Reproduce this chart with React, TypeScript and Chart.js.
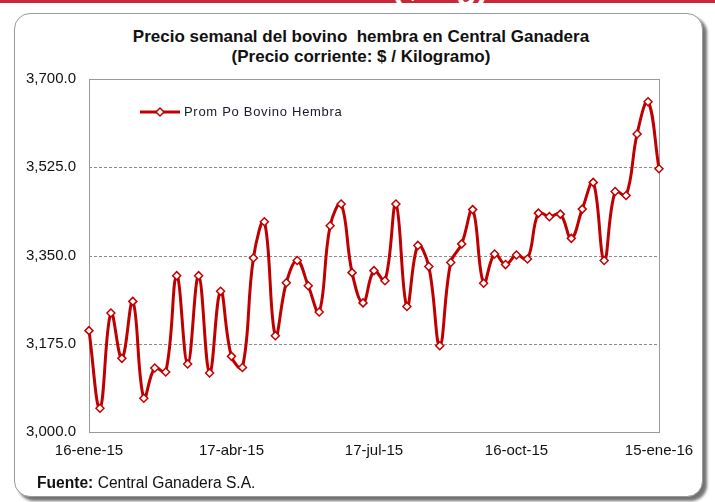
import { useEffect, useRef } from "react";
import { Chart, registerables } from "chart.js";

Chart.register(...registerables);

const categories: string[] = [
  "16-ene-15", "23-ene-15", "30-ene-15", "6-feb-15", "13-feb-15", "20-feb-15", "27-feb-15",
  "6-mar-15", "13-mar-15", "20-mar-15", "27-mar-15", "3-abr-15", "10-abr-15", "17-abr-15",
  "24-abr-15", "1-may-15", "8-may-15", "15-may-15", "22-may-15", "29-may-15", "5-jun-15",
  "12-jun-15", "19-jun-15", "26-jun-15", "3-jul-15", "10-jul-15", "17-jul-15", "24-jul-15",
  "31-jul-15", "7-ago-15", "14-ago-15", "21-ago-15", "28-ago-15", "4-sep-15", "11-sep-15",
  "18-sep-15", "25-sep-15", "2-oct-15", "9-oct-15", "16-oct-15", "23-oct-15", "30-oct-15",
  "6-nov-15", "13-nov-15", "20-nov-15", "27-nov-15", "4-dic-15", "11-dic-15", "18-dic-15",
  "25-dic-15", "1-ene-16", "8-ene-16", "15-ene-16",
];

const prices: number[] = [
  3201, 3047, 3236, 3146, 3259, 3067, 3127, 3119, 3310, 3135, 3310, 3117, 3279, 3150,
  3128, 3345, 3417, 3191, 3296, 3340, 3290, 3238, 3409, 3452, 3316, 3256, 3320, 3300,
  3452, 3249, 3370, 3328, 3171, 3336, 3373, 3441, 3295, 3353, 3332, 3351, 3343, 3434,
  3427, 3432, 3384, 3442, 3495, 3340, 3477, 3469, 3591, 3655, 3522,
];

const yTicks: number[] = [3000, 3175, 3350, 3525, 3700];
const xTickLabels: string[] = ["16-ene-15", "17-abr-15", "17-jul-15", "16-oct-15", "15-ene-16"];
const seriesLabel = "Prom Po Bovino Hembra";
const titleLines: string[] = [
  "Precio semanal del bovino  hembra en Central Ganadera",
  "(Precio corriente: $ / Kilogramo)",
];
const LINE_COLOR = "#C00000";
const FONT = "'Liberation Sans', Arial, sans-serif";

const gridPlugin = {
  id: "gridBox",
  beforeDatasetsDraw(chart: any) {
    const { ctx, chartArea } = chart;
    const y = chart.scales.y;
    ctx.save();
    ctx.strokeStyle = "#8c8c8c";
    ctx.lineWidth = 1;
    ctx.setLineDash([3, 2]);
    yTicks.slice(1, -1).forEach((v) => {
      const py = Math.round(y.getPixelForValue(v)) + 0.5;
      ctx.beginPath();
      ctx.moveTo(chartArea.left, py);
      ctx.lineTo(chartArea.right, py);
      ctx.stroke();
    });
    ctx.setLineDash([]);
    ctx.strokeStyle = "#9a9a9a";
    ctx.strokeRect(
      Math.round(chartArea.left) + 0.5,
      Math.round(chartArea.top) + 0.5,
      Math.round(chartArea.right - chartArea.left),
      Math.round(chartArea.bottom - chartArea.top)
    );
    ctx.restore();
  },
};

const legendPlugin = {
  id: "insideLegend",
  afterDraw(chart: any) {
    const { ctx, chartArea } = chart;
    const ds = chart.data.datasets[0];
    const x1 = chartArea.left + 51;
    const x2 = chartArea.left + 91;
    const ly = chartArea.top + 33;
    ctx.save();
    ctx.strokeStyle = LINE_COLOR;
    ctx.lineWidth = 3;
    ctx.beginPath();
    ctx.moveTo(x1, ly);
    ctx.lineTo(x2, ly);
    ctx.stroke();
    const cx = (x1 + x2) / 2;
    const r = 4;
    ctx.beginPath();
    ctx.moveTo(cx, ly - r);
    ctx.lineTo(cx + r, ly);
    ctx.lineTo(cx, ly + r);
    ctx.lineTo(cx - r, ly);
    ctx.closePath();
    ctx.fillStyle = "#ffffff";
    ctx.fill();
    ctx.lineWidth = 1.5;
    ctx.stroke();
    ctx.fillStyle = "#1a1a2a";
    ctx.font = "13px " + FONT;
    (ctx as any).letterSpacing = "0.7px";
    ctx.textBaseline = "middle";
    ctx.textAlign = "left";
    ctx.fillText(ds.label, x2 + 4, ly);
    ctx.restore();
  },
};

function ChartView() {
  const ref = useRef<HTMLCanvasElement | null>(null);
  useEffect(() => {
    if (!ref.current) return;
    const chart = new Chart(ref.current, {
      type: "line",
      data: {
        labels: categories,
        datasets: [
          {
            label: seriesLabel,
            data: prices,
            borderColor: LINE_COLOR,
            borderWidth: 3,
            tension: 0.4,
            pointStyle: "rectRot",
            pointRadius: 4,
            pointBackgroundColor: "#ffffff",
            pointBorderColor: LINE_COLOR,
            pointBorderWidth: 1.5,
            clip: false,
          } as any,
        ],
      },
      options: {
        animation: false,
        responsive: false,
        devicePixelRatio: 1,
        layout: { padding: { left: 9, top: 79, right: 56, bottom: 40 } },
        plugins: {
          legend: { display: false },
          tooltip: { enabled: false },
          title: { display: false },
        },
        scales: {
          x: {
            type: "category",
            offset: false,
            grid: { display: false, drawTicks: false },
            border: { display: false },
            ticks: {
              autoSkip: false,
              maxRotation: 0,
              minRotation: 0,
              padding: 10,
              color: "#111111",
              font: { family: FONT, size: 15 },
              callback: (_v: any, i: number) =>
                xTickLabels.includes(categories[i]) ? categories[i] : "",
            },
            afterFit: (s: any) => {
              s.height = 30;
            },
          },
          y: {
            min: yTicks[0],
            max: yTicks[yTicks.length - 1],
            grid: { display: false, drawTicks: false },
            border: { display: false },
            afterBuildTicks: (s: any) => {
              s.ticks = yTicks.map((v) => ({ value: v }));
            },
            ticks: {
              padding: 13,
              color: "#111111",
              font: { family: FONT, size: 15 },
              callback: (v: any) =>
                Number(v).toLocaleString("en-US", {
                  minimumFractionDigits: 1,
                  maximumFractionDigits: 1,
                }),
            },
            afterFit: (s: any) => {
              s.width = 80;
            },
          },
        },
      },
      plugins: [gridPlugin, legendPlugin],
    });
    return () => chart.destroy();
  }, []);
  return (
    <canvas
      ref={ref}
      width={715}
      height={502}
      style={{ position: "absolute", left: 0, top: 0, width: 715, height: 502 }}
    />
  );
}

export default function App() {
  useEffect(() => {
    document.body.style.margin = "0";
  }, []);
  return (
    <div
      style={{
        position: "relative",
        width: 715,
        height: 502,
        overflow: "hidden",
        background: "#ffffff",
        fontFamily: FONT,
      }}
    >
      <div
        style={{
          position: "absolute",
          left: 0,
          top: 0,
          width: 715,
          height: 3,
          background: "#C9283A",
          overflow: "hidden",
        }}
      >
        <div
          style={{
            position: "absolute",
            left: 385,
            top: -31,
            width: 110,
            textAlign: "center",
            color: "#ffffff",
            fontWeight: "bold",
            fontSize: 34,
            lineHeight: "34px",
          }}
        >
          ($/Kg)
        </div>
      </div>
      <div
        style={{
          position: "absolute",
          left: 14,
          top: 13,
          width: 687,
          height: 482,
          border: "1.5px solid #9a9a9a",
          borderRadius: 16,
          boxShadow: "4px 4px 3px rgba(0,0,0,0.55)",
          background: "#ffffff",
        }}
      />
      <div
        style={{
          position: "absolute",
          left: 111,
          top: 27,
          width: 500,
          textAlign: "center",
          fontWeight: "bold",
          fontSize: 17,
          lineHeight: "20px",
          color: "#111111",
          whiteSpace: "pre",
        }}
      >
        <div>{titleLines[0]}</div>
        <div>{titleLines[1]}</div>
      </div>
      <ChartView />
      <div
        style={{
          position: "absolute",
          left: 37,
          top: 474,
          fontSize: 15.6,
          lineHeight: "18px",
          color: "#111111",
          whiteSpace: "nowrap",
        }}
      >
        <b>Fuente:</b> Central Ganadera S.A.
      </div>
    </div>
  );
}
